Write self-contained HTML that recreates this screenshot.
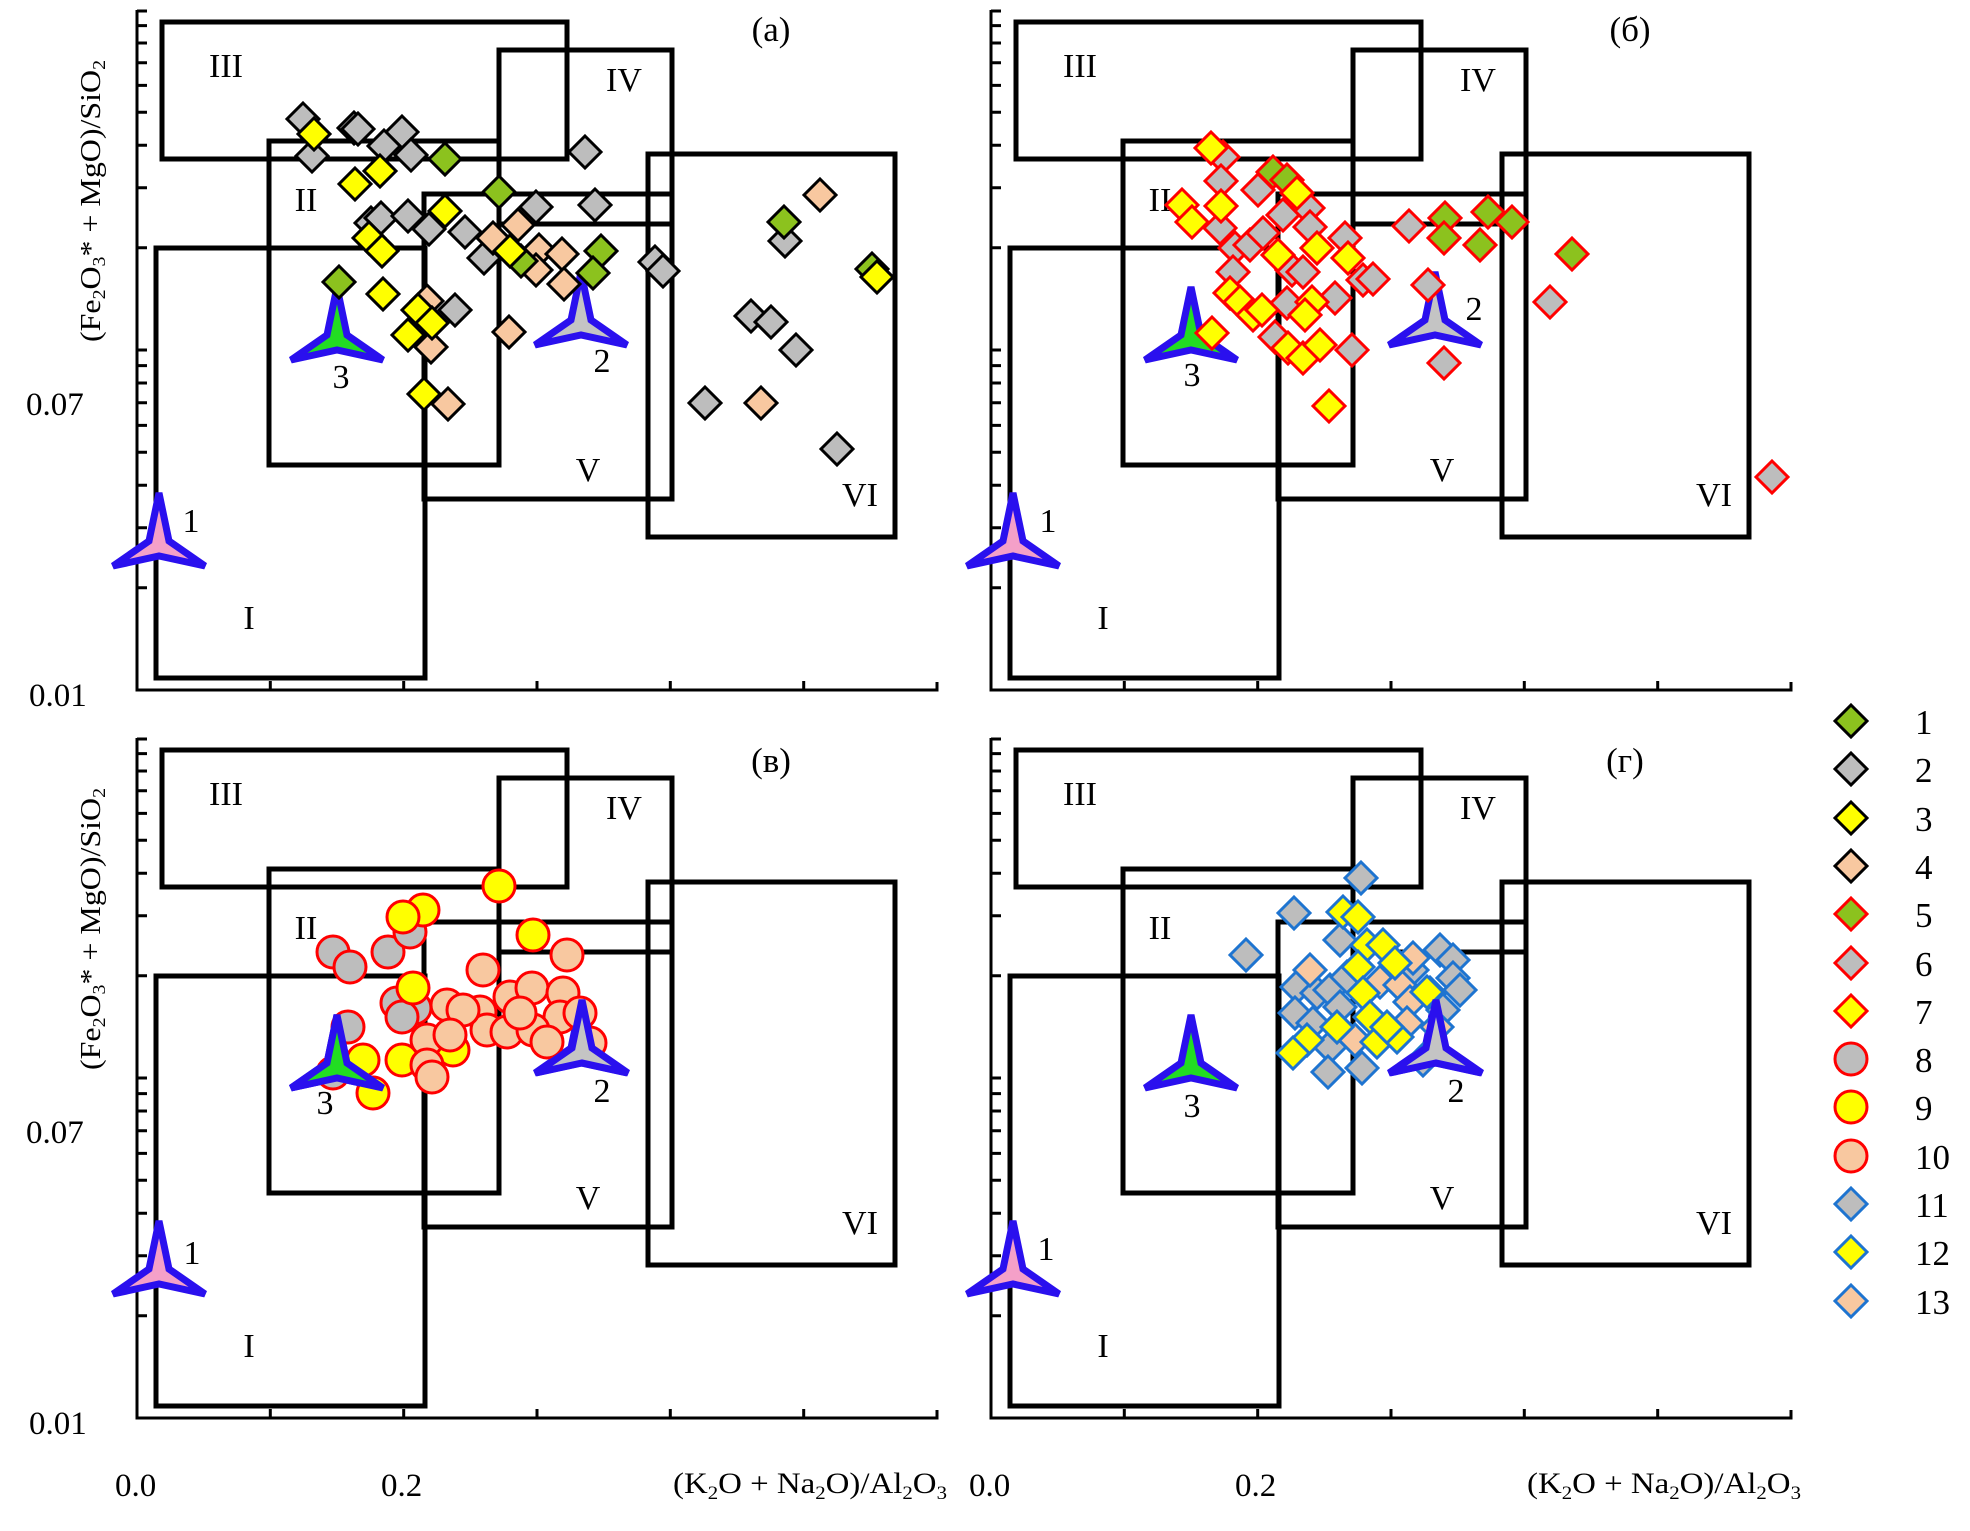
<!DOCTYPE html>
<html><head><meta charset="utf-8"><style>html,body{margin:0;padding:0;background:#fff}svg{display:block}svg text{font-family:"Liberation Serif","DejaVu Serif",serif}</style></head>
<body>
<svg xmlns="http://www.w3.org/2000/svg" xmlns:xlink="http://www.w3.org/1999/xlink" width="1970" height="1531" viewBox="0 0 1970 1531" style="font-family:'Liberation Serif',serif">
<defs>
<path id="dm" d="M0,-16 L16,0 L0,16 L-16,0Z"/>
<g id="g1"><use xlink:href="#dm" fill="#8cc21e" stroke="#000" stroke-width="3"/></g>
<g id="g2"><use xlink:href="#dm" fill="#bdbdbd" stroke="#000" stroke-width="3"/></g>
<g id="g3"><use xlink:href="#dm" fill="#ffff00" stroke="#000" stroke-width="3"/></g>
<g id="g4"><use xlink:href="#dm" fill="#f8c8a0" stroke="#000" stroke-width="3"/></g>
<g id="g5"><use xlink:href="#dm" fill="#8cc21e" stroke="#ff0000" stroke-width="3"/></g>
<g id="g6"><use xlink:href="#dm" fill="#bdbdbd" stroke="#ff0000" stroke-width="3"/></g>
<g id="g7"><use xlink:href="#dm" fill="#ffff00" stroke="#ff0000" stroke-width="3"/></g>
<g id="g8"><circle r="16" fill="#bdbdbd" stroke="#ff0000" stroke-width="3"/></g>
<g id="g9"><circle r="16" fill="#ffff00" stroke="#ff0000" stroke-width="3"/></g>
<g id="g10"><circle r="16" fill="#f8c8a0" stroke="#ff0000" stroke-width="3"/></g>
<g id="g11"><use xlink:href="#dm" fill="#bdbdbd" stroke="#1e74d0" stroke-width="3"/></g>
<g id="g12"><use xlink:href="#dm" fill="#ffff00" stroke="#1e74d0" stroke-width="3"/></g>
<g id="g13"><use xlink:href="#dm" fill="#f8c8a0" stroke="#1e74d0" stroke-width="3"/></g>
<path id="star" d="M0,-58 L10,-10 L46,15 L0,5 L-46,15 L-10,-10Z" stroke="#2a10ee" stroke-width="7" stroke-linejoin="miter"/>
<g id="frame">
 <g fill="none" stroke="#000" stroke-width="5">
  <rect x="162" y="22" width="405" height="137"/>
  <rect x="499" y="50" width="173" height="174"/>
  <rect x="424" y="194" width="248" height="305"/>
  <rect x="269" y="141" width="230" height="324"/>
  <rect x="156" y="248" width="269" height="430"/>
  <rect x="648" y="154" width="247" height="383"/>
 </g>
 <g stroke="#000" stroke-width="3" fill="none">
  <path d="M137,10 V690 H937 V682"/>
  <path d="M270.3,690 v-9 M403.7,690 v-9 M537,690 v-9 M670.3,690 v-9 M803.7,690 v-9"/>
  <path d="M137,587.7h10M137,527.8h10M137,485.3h10M137,452.3h10M137,425.4h10M137,402.7h10M137,383h10M137,365.6h10M137,350h10M137,247.7h10M137,187.8h10M137,145.3h10M137,112.3h10M137,85.4h10M137,62.7h10M137,43h10M137,25.6h10M137,11h10"/>
 </g>
 <g font-size="34" text-anchor="middle">
  <text x="226" y="77">III</text><text x="624" y="91">IV</text><text x="306" y="211">II</text>
  <text x="588" y="481">V</text><text x="860" y="506">VI</text><text x="249" y="629">I</text>
 </g>
 <use xlink:href="#star" x="159" y="551" fill="#f4a0c8"/>
 <use xlink:href="#star" x="581" y="330" fill="#c4c4c4"/>
 <use xlink:href="#star" x="337" y="345" fill="#22dd22"/>
</g>
</defs>

<use xlink:href="#frame"/>
<use xlink:href="#frame" x="854"/>
<use xlink:href="#frame" y="728"/>
<use xlink:href="#frame" x="854" y="728"/>

<g font-size="34" text-anchor="middle">
<text x="191" y="532">1</text><text x="602" y="372">2</text><text x="341" y="388">3</text>
<text x="1048" y="532">1</text><text x="1474" y="320">2</text><text x="1192" y="386">3</text>
<text x="192" y="1264">1</text><text x="602" y="1102">2</text><text x="325" y="1114">3</text>
<text x="1046" y="1260">1</text><text x="1456" y="1102">2</text><text x="1192" y="1117">3</text>
</g>
<g font-size="35" text-anchor="middle">
<text x="771" y="41">(a)</text><text x="1630" y="41">(б)</text><text x="771" y="772">(в)</text><text x="1625" y="772">(г)</text>
</g>
<g font-size="33">
<text x="26" y="415">0.07</text><text x="29" y="706">0.01</text>
<text x="26" y="1143">0.07</text><text x="29" y="1434">0.01</text>
<text x="115" y="1496">0.0</text><text x="381" y="1496">0.2</text>
<text x="969" y="1496">0.0</text><text x="1235" y="1496">0.2</text>
</g>
<g font-size="30">
<text x="673" y="1493" textLength="274" lengthAdjust="spacingAndGlyphs">(K<tspan font-size="19" dy="6">2</tspan><tspan dy="-6">O + Na</tspan><tspan font-size="19" dy="6">2</tspan><tspan dy="-6">O)/Al</tspan><tspan font-size="19" dy="6">2</tspan><tspan dy="-6">O</tspan><tspan font-size="19" dy="6">3</tspan></text>
<text x="1527" y="1493" textLength="274" lengthAdjust="spacingAndGlyphs">(K<tspan font-size="19" dy="6">2</tspan><tspan dy="-6">O + Na</tspan><tspan font-size="19" dy="6">2</tspan><tspan dy="-6">O)/Al</tspan><tspan font-size="19" dy="6">2</tspan><tspan dy="-6">O</tspan><tspan font-size="19" dy="6">3</tspan></text>
</g>
<g font-size="29">
<text transform="translate(100,342) rotate(-90)" textLength="282" lengthAdjust="spacingAndGlyphs">(Fe<tspan font-size="18" dy="5">2</tspan><tspan dy="-5">O</tspan><tspan font-size="18" dy="5">3</tspan><tspan dy="-5">* + MgO)/SiO</tspan><tspan font-size="18" dy="5">2</tspan></text>
<text transform="translate(100,1070) rotate(-90)" textLength="282" lengthAdjust="spacingAndGlyphs">(Fe<tspan font-size="18" dy="5">2</tspan><tspan dy="-5">O</tspan><tspan font-size="18" dy="5">3</tspan><tspan dy="-5">* + MgO)/SiO</tspan><tspan font-size="18" dy="5">2</tspan></text>
</g>

<!-- panel a -->
<use xlink:href="#g2" x="303" y="119"/><use xlink:href="#g2" x="354" y="128"/><use xlink:href="#g2" x="358" y="129"/><use xlink:href="#g2" x="402" y="132"/><use xlink:href="#g2" x="312" y="156"/><use xlink:href="#g2" x="384" y="146"/><use xlink:href="#g2" x="411" y="155"/><use xlink:href="#g2" x="585" y="152"/><use xlink:href="#g2" x="371" y="223"/><use xlink:href="#g2" x="381" y="218"/><use xlink:href="#g2" x="408" y="216"/><use xlink:href="#g2" x="429" y="229"/><use xlink:href="#g2" x="465" y="232"/><use xlink:href="#g2" x="484" y="258"/><use xlink:href="#g2" x="536" y="207"/><use xlink:href="#g2" x="595" y="205"/><use xlink:href="#g2" x="655" y="262"/><use xlink:href="#g2" x="663" y="271"/><use xlink:href="#g2" x="751" y="316"/><use xlink:href="#g2" x="771" y="322"/><use xlink:href="#g2" x="796" y="350"/><use xlink:href="#g2" x="705" y="403"/><use xlink:href="#g2" x="837" y="449"/><use xlink:href="#g2" x="785" y="241"/><use xlink:href="#g2" x="455" y="310"/>
<use xlink:href="#g4" x="518" y="225"/><use xlink:href="#g4" x="493" y="238"/><use xlink:href="#g4" x="539" y="250"/><use xlink:href="#g4" x="562" y="254"/><use xlink:href="#g4" x="536" y="270"/><use xlink:href="#g4" x="564" y="284"/><use xlink:href="#g4" x="427" y="301"/><use xlink:href="#g4" x="431" y="347"/><use xlink:href="#g4" x="509" y="332"/><use xlink:href="#g4" x="448" y="404"/><use xlink:href="#g4" x="761" y="403"/><use xlink:href="#g4" x="820" y="195"/>
<use xlink:href="#g1" x="445" y="159"/><use xlink:href="#g1" x="499" y="192"/><use xlink:href="#g1" x="339" y="282"/><use xlink:href="#g1" x="601" y="251"/><use xlink:href="#g1" x="593" y="273"/><use xlink:href="#g1" x="521" y="261"/><use xlink:href="#g1" x="784" y="222"/><use xlink:href="#g1" x="872" y="269"/>
<use xlink:href="#g3" x="314" y="134"/><use xlink:href="#g3" x="380" y="171"/><use xlink:href="#g3" x="355" y="184"/><use xlink:href="#g3" x="445" y="211"/><use xlink:href="#g3" x="369" y="238"/><use xlink:href="#g3" x="382" y="251"/><use xlink:href="#g3" x="383" y="294"/><use xlink:href="#g3" x="418" y="310"/><use xlink:href="#g3" x="432" y="323"/><use xlink:href="#g3" x="408" y="335"/><use xlink:href="#g3" x="424" y="394"/><use xlink:href="#g3" x="510" y="251"/><use xlink:href="#g3" x="877" y="277"/>

<!-- panel b -->
<use xlink:href="#g6" x="1223" y="157"/><use xlink:href="#g6" x="1221" y="181"/><use xlink:href="#g6" x="1258" y="190"/><use xlink:href="#g6" x="1220" y="228"/><use xlink:href="#g6" x="1235" y="248"/><use xlink:href="#g6" x="1250" y="245"/><use xlink:href="#g6" x="1283" y="215"/><use xlink:href="#g6" x="1308" y="208"/><use xlink:href="#g6" x="1310" y="227"/><use xlink:href="#g6" x="1345" y="238"/><use xlink:href="#g6" x="1233" y="272"/><use xlink:href="#g6" x="1292" y="270"/><use xlink:href="#g6" x="1303" y="272"/><use xlink:href="#g6" x="1363" y="280"/><use xlink:href="#g6" x="1373" y="279"/><use xlink:href="#g6" x="1287" y="303"/><use xlink:href="#g6" x="1335" y="298"/><use xlink:href="#g6" x="1275" y="337"/><use xlink:href="#g6" x="1352" y="350"/><use xlink:href="#g6" x="1409" y="226"/><use xlink:href="#g6" x="1428" y="285"/><use xlink:href="#g6" x="1444" y="363"/><use xlink:href="#g6" x="1550" y="302"/><use xlink:href="#g6" x="1263" y="233"/><use xlink:href="#g6" x="1772" y="477"/>
<use xlink:href="#g5" x="1273" y="172"/><use xlink:href="#g5" x="1287" y="180"/><use xlink:href="#g5" x="1445" y="218"/><use xlink:href="#g5" x="1444" y="238"/><use xlink:href="#g5" x="1480" y="245"/><use xlink:href="#g5" x="1488" y="212"/><use xlink:href="#g5" x="1512" y="222"/><use xlink:href="#g5" x="1572" y="254"/>
<use xlink:href="#g7" x="1211" y="148"/><use xlink:href="#g7" x="1182" y="205"/><use xlink:href="#g7" x="1192" y="222"/><use xlink:href="#g7" x="1221" y="206"/><use xlink:href="#g7" x="1297" y="193"/><use xlink:href="#g7" x="1278" y="255"/><use xlink:href="#g7" x="1317" y="248"/><use xlink:href="#g7" x="1348" y="258"/><use xlink:href="#g7" x="1230" y="293"/><use xlink:href="#g7" x="1240" y="302"/><use xlink:href="#g7" x="1253" y="315"/><use xlink:href="#g7" x="1312" y="302"/><use xlink:href="#g7" x="1305" y="315"/><use xlink:href="#g7" x="1212" y="333"/><use xlink:href="#g7" x="1288" y="348"/><use xlink:href="#g7" x="1303" y="358"/><use xlink:href="#g7" x="1320" y="345"/><use xlink:href="#g7" x="1329" y="406"/><use xlink:href="#g7" x="1262" y="310"/>

<!-- panel v -->
<use xlink:href="#g8" x="333" y="952"/><use xlink:href="#g8" x="350" y="967"/><use xlink:href="#g8" x="388" y="952"/><use xlink:href="#g8" x="410" y="932"/><use xlink:href="#g8" x="397" y="1003"/><use xlink:href="#g8" x="415" y="1008"/><use xlink:href="#g8" x="402" y="1017"/><use xlink:href="#g8" x="348" y="1027"/><use xlink:href="#g8" x="333" y="1073"/>
<use xlink:href="#g9" x="499" y="886"/><use xlink:href="#g9" x="423" y="910"/><use xlink:href="#g9" x="403" y="917"/><use xlink:href="#g9" x="533" y="935"/><use xlink:href="#g9" x="413" y="988"/><use xlink:href="#g9" x="363" y="1060"/><use xlink:href="#g9" x="373" y="1093"/><use xlink:href="#g9" x="402" y="1060"/><use xlink:href="#g9" x="453" y="1050"/>
<use xlink:href="#g10" x="567" y="955"/><use xlink:href="#g10" x="483" y="970"/><use xlink:href="#g10" x="447" y="1005"/><use xlink:href="#g10" x="510" y="997"/><use xlink:href="#g10" x="480" y="1012"/><use xlink:href="#g10" x="532" y="988"/><use xlink:href="#g10" x="563" y="993"/><use xlink:href="#g10" x="560" y="1017"/><use xlink:href="#g10" x="487" y="1030"/><use xlink:href="#g10" x="507" y="1032"/><use xlink:href="#g10" x="533" y="1030"/><use xlink:href="#g10" x="580" y="1013"/><use xlink:href="#g10" x="590" y="1043"/><use xlink:href="#g10" x="547" y="1042"/><use xlink:href="#g10" x="520" y="1013"/><use xlink:href="#g10" x="463" y="1010"/><use xlink:href="#g10" x="427" y="1040"/><use xlink:href="#g10" x="450" y="1035"/><use xlink:href="#g10" x="427" y="1065"/><use xlink:href="#g10" x="432" y="1077"/>
<use xlink:href="#star" x="582" y="1058" fill="#c4c4c4"/><use xlink:href="#star" x="337" y="1073" fill="#22dd22"/>

<!-- panel g -->
<use xlink:href="#g11" x="1361" y="878"/><use xlink:href="#g11" x="1294" y="913"/><use xlink:href="#g11" x="1246" y="955"/><use xlink:href="#g11" x="1340" y="940"/><use xlink:href="#g11" x="1440" y="950"/><use xlink:href="#g11" x="1453" y="960"/><use xlink:href="#g11" x="1453" y="978"/><use xlink:href="#g11" x="1460" y="990"/><use xlink:href="#g11" x="1297" y="987"/><use xlink:href="#g11" x="1295" y="1013"/><use xlink:href="#g11" x="1317" y="993"/><use xlink:href="#g11" x="1330" y="990"/><use xlink:href="#g11" x="1340" y="1007"/><use xlink:href="#g11" x="1330" y="1047"/><use xlink:href="#g11" x="1328" y="1072"/><use xlink:href="#g11" x="1362" y="1068"/><use xlink:href="#g11" x="1412" y="970"/><use xlink:href="#g11" x="1430" y="993"/><use xlink:href="#g11" x="1443" y="1010"/><use xlink:href="#g11" x="1313" y="1023"/><use xlink:href="#g11" x="1347" y="977"/><use xlink:href="#g11" x="1423" y="1060"/>
<use xlink:href="#g13" x="1310" y="970"/><use xlink:href="#g13" x="1380" y="982"/><use xlink:href="#g13" x="1400" y="985"/><use xlink:href="#g13" x="1413" y="958"/><use xlink:href="#g13" x="1410" y="1002"/><use xlink:href="#g13" x="1355" y="1040"/><use xlink:href="#g13" x="1407" y="1023"/><use xlink:href="#g13" x="1437" y="1027"/>
<use xlink:href="#g12" x="1343" y="912"/><use xlink:href="#g12" x="1358" y="917"/><use xlink:href="#g12" x="1367" y="945"/><use xlink:href="#g12" x="1383" y="945"/><use xlink:href="#g12" x="1358" y="967"/><use xlink:href="#g12" x="1395" y="963"/><use xlink:href="#g12" x="1363" y="993"/><use xlink:href="#g12" x="1337" y="1027"/><use xlink:href="#g12" x="1307" y="1040"/><use xlink:href="#g12" x="1293" y="1053"/><use xlink:href="#g12" x="1370" y="1017"/><use xlink:href="#g12" x="1377" y="1042"/><use xlink:href="#g12" x="1397" y="1037"/><use xlink:href="#g12" x="1387" y="1027"/><use xlink:href="#g12" x="1427" y="992"/>
<use xlink:href="#star" x="1436" y="1058" fill="#c4c4c4"/>

<!-- legend -->
<use xlink:href="#g1" x="1851" y="721"/><use xlink:href="#g2" x="1851" y="769"/><use xlink:href="#g3" x="1851" y="818"/><use xlink:href="#g4" x="1851" y="866"/><use xlink:href="#g5" x="1851" y="914"/><use xlink:href="#g6" x="1851" y="963"/><use xlink:href="#g7" x="1851" y="1011"/><use xlink:href="#g8" x="1851" y="1059"/><use xlink:href="#g9" x="1851" y="1107"/><use xlink:href="#g10" x="1851" y="1156"/><use xlink:href="#g11" x="1851" y="1204"/><use xlink:href="#g12" x="1851" y="1252"/><use xlink:href="#g13" x="1851" y="1301"/>
<g font-size="35">
<text x="1915" y="734">1</text><text x="1915" y="782">2</text><text x="1915" y="831">3</text><text x="1915" y="879">4</text><text x="1915" y="927">5</text><text x="1915" y="976">6</text><text x="1915" y="1024">7</text><text x="1915" y="1072">8</text><text x="1915" y="1120">9</text><text x="1915" y="1169">10</text><text x="1915" y="1217">11</text><text x="1915" y="1265">12</text><text x="1915" y="1314">13</text>
</g>
</svg>
</body></html>
